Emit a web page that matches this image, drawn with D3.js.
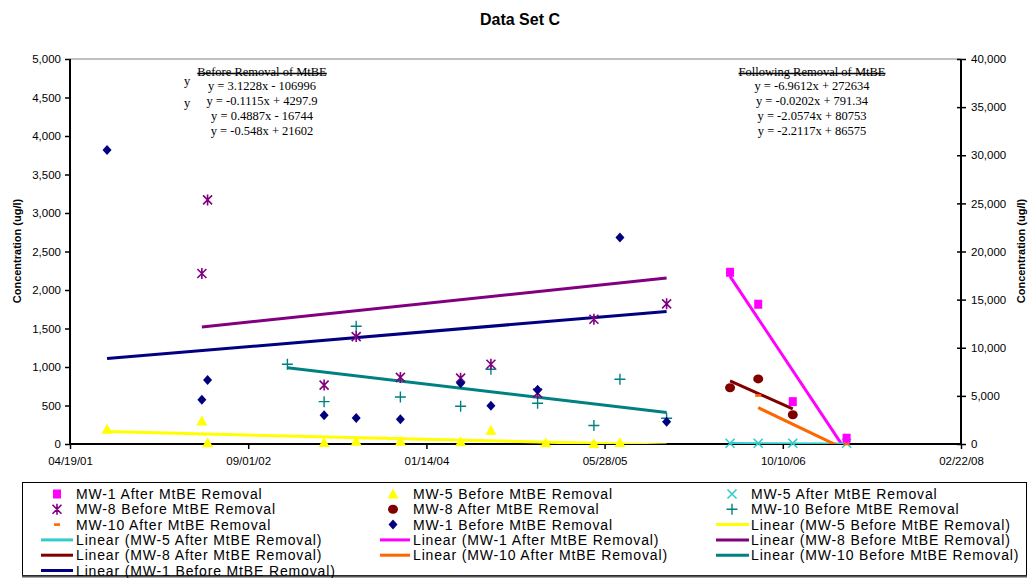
<!DOCTYPE html>
<html><head><meta charset="utf-8">
<script src="https://cdn.jsdelivr.net/npm/d3@7"></script>
<style>
body{margin:0;background:#fff;}
svg{display:block;font-family:"Liberation Sans",Arial,sans-serif;}
</style></head>
<body><svg id="c" width="1030" height="578"></svg>
<script>
// ---------- DATA ----------
const xTickDates = ["2001-04-19","2002-09-01","2004-01-14","2005-05-28","2006-10-10","2008-02-22"];
const leftTicks = [0,500,1000,1500,2000,2500,3000,3500,4000,4500,5000];
const rightTicks = [0,5000,10000,15000,20000,25000,30000,35000,40000];

const mw1BeforeDates = ["2001-08-01","2002-04-24","2002-05-10","2003-04-02","2003-07-01","2003-11-02","2004-04-19","2004-07-13","2004-11-21","2005-07-10","2005-11-18"];
const mw1BeforeVals  = [30540,4600,6650,2980,2700,2570,6300,3980,5640,21450,2320]; // right axis

const mw5BeforeDates = ["2001-08-01","2002-04-24","2002-05-10","2003-04-02","2003-07-01","2003-11-02","2004-04-19","2004-07-13","2004-12-14","2005-04-28","2005-07-10"];
const mw5BeforeVals  = [190,300,15,20,35,35,30,180,15,8,20];

const mw8BeforeDates = ["2002-04-24","2002-05-10","2003-04-02","2003-07-01","2003-11-02","2004-04-19","2004-07-13","2004-11-21","2005-04-28","2005-11-18"];
const mw8BeforeVals  = [2215,3170,765,1395,865,855,1035,660,1620,1820];

const mw10BeforeDates = ["2002-12-20","2003-04-02","2003-07-01","2003-11-02","2004-04-19","2004-07-13","2004-11-21","2005-04-28","2005-07-10","2005-11-18"];
const mw10BeforeVals  = [1035,550,1530,610,490,970,530,240,840,335];

const mw1AfterDates = ["2006-05-15","2006-08-02","2006-11-07","2007-04-07"];
const mw1AfterVals  = [2230,1815,550,75];

const mw5AfterDates = ["2006-05-15","2006-08-02","2006-11-07","2007-04-07"];
const mw5AfterVals  = [10,10,10,10];

const mw8AfterDates = ["2006-05-15","2006-08-02","2006-11-07"];
const mw8AfterVals  = [730,845,380];

const mw10AfterDates = ["2006-08-02","2007-04-07"];
const mw10AfterVals  = [630,0];

// trend lines: name, slope, intercept (Excel serial x), start, end, axis
const trendNames  = ["MW-1 Before","MW-5 Before","MW-8 Before","MW-10 Before","MW-1 After","MW-5 After","MW-8 After","MW-10 After"];
const trendSlope  = [3.1228,-0.1115,0.4887,-0.548,-6.9612,-0.0202,-2.0574,-2.2117];
const trendInter  = [-106996,4297.9,-16744,21602,272634,791.34,80753,86575];
const trendStart  = ["2001-08-01","2001-08-01","2002-04-24","2002-12-20","2006-05-15","2006-05-15","2006-05-15","2006-08-02"];
const trendEnd    = ["2005-11-18","2005-11-18","2005-11-18","2005-11-18","2007-04-07","2007-04-07","2006-11-07","2007-04-07"];
const trendAxis   = ["R","L","L","L","L","L","L","L"];
const trendColor  = ["#000080","#FFFF00","#800080","#008080","#FF00FF","#33CCCC","#800000","#FF6600"];

const eqBeforeTitle = "Before Removal of MtBE";
const eqBefore = ["y = 3.1228x - 106996","y = -0.1115x + 4297.9","y = 0.4887x - 16744","y = -0.548x + 21602"];
const eqAfterTitle = "Following Removal of MtBE";
const eqAfter = ["y = -6.9612x + 272634","y = -0.0202x + 791.34","y = -2.0574x + 80753","y = -2.2117x + 86575"];

const legendLabels = [
 "MW-1 After MtBE Removal","MW-5 Before MtBE Removal","MW-5 After MtBE Removal",
 "MW-8 Before MtBE Removal","MW-8 After MtBE Removal","MW-10 Before MtBE Removal",
 "MW-10 After MtBE Removal","MW-1 Before MtBE Removal","Linear (MW-5 Before MtBE Removal)",
 "Linear (MW-5 After MtBE Removal)","Linear (MW-1 After MtBE Removal)","Linear (MW-8 Before MtBE Removal)",
 "Linear (MW-8 After MtBE Removal)","Linear (MW-10 After MtBE Removal)","Linear (MW-10 Before MtBE Removal)",
 "Linear (MW-1 Before MtBE Removal)"];
const legendKeys = ["sq","tri","x","ast","circ","plus","dash","dia","L:#FFFF00","L:#33CCCC","L:#FF00FF","L:#800080","L:#800000","L:#FF6600","L:#008080","L:#000080"];

// ---------- CHART ----------
const parse = d3.utcParse("%Y-%m-%d");
const svg = d3.select("#c");
const L = 70, R = 961, T = 59, B = 444;
const x = d3.scaleUtc().domain([parse("2001-04-19"), parse("2008-02-22")]).range([L, R]);
const yL = d3.scaleLinear().domain([0,5000]).range([B,T]);
const yR = d3.scaleLinear().domain([0,40000]).range([B,T]);
const serial = d => (d - Date.UTC(1899,11,30)) / 86400000;

svg.append("defs").append("clipPath").attr("id","plot").append("rect")
  .attr("x",L).attr("y",T).attr("width",R-L).attr("height",B-T);

// title
svg.append("text").attr("x",520).attr("y",25).attr("text-anchor","middle")
  .style("font-weight","bold").style("font-size","16px").text("Data Set C");

// top border
svg.append("line").attr("x1",L).attr("x2",R).attr("y1",T).attr("y2",T).attr("stroke","#808080").attr("stroke-width",1);

// axes
const fmt = d3.format(",");
const gL = svg.append("g").attr("transform",`translate(${L},0)`)
  .call(d3.axisLeft(yL).tickValues(leftTicks).tickFormat(fmt).tickSize(5).tickPadding(4));
const gR = svg.append("g").attr("transform",`translate(${R},0)`)
  .call(d3.axisRight(yR).tickValues(rightTicks).tickFormat(fmt).tickSize(5).tickPadding(5));
gR.selectAll(".tick line").attr("x1",-4);
const gX = svg.append("g").attr("transform",`translate(0,${B})`)
  .call(d3.axisBottom(x).tickValues(xTickDates.map(parse)).tickFormat(d3.utcFormat("%m/%d/%y")).tickSize(5).tickPadding(8));
[gL,gR,gX].forEach(g=>{
  g.select(".domain").attr("stroke","#000").attr("stroke-width",2);
  g.selectAll(".tick line").attr("stroke","#000").attr("stroke-width",1.5);
  g.selectAll(".tick text").style("font-size","11.5px").attr("fill","#000").style("font-family","'Liberation Sans',Arial,sans-serif");
});
gX.select(".domain").attr("d",`M${L},0H${R}`);
gL.select(".domain").attr("d",`M0,${B}V${T}`);
gR.select(".domain").attr("d",`M0,${B}V${T}`);

// axis titles
svg.append("text").attr("transform","translate(21,251) rotate(-90)").attr("text-anchor","middle")
  .style("font-weight","bold").style("font-size","11px").text("Concentration (ug/l)");
svg.append("text").attr("transform","translate(1025,251) rotate(-90)").attr("text-anchor","middle")
  .style("font-weight","bold").style("font-size","11px").text("Concentration (ug/l)");

// trend lines
const tg = svg.append("g").attr("clip-path","url(#plot)");
trendNames.forEach((n,i)=>{
  const s = parse(trendStart[i]), e = parse(trendEnd[i]);
  const ys = trendAxis[i]==="R" ? yR : yL;
  const f = d => trendSlope[i]*serial(d) + trendInter[i];
  tg.append("line").attr("x1",x(s)).attr("x2",x(e)).attr("y1",ys(f(s))).attr("y2",ys(f(e)))
    .attr("stroke",trendColor[i]).attr("stroke-width",3);
});

// marker drawers
function marker(g, type, cx, cy){
  switch(type){
    case "sq": g.append("rect").attr("x",cx-4).attr("y",cy-4.5).attr("width",8).attr("height",9).attr("fill","#FF00FF"); break;
    case "tri": g.append("path").attr("d",`M${cx},${cy-5.5}L${cx+5.5},${cy+4.5}L${cx-5.5},${cy+4.5}Z`).attr("fill","#FFFF00"); break;
    case "x": g.append("path").attr("d",`M${cx-4.5},${cy-4.5}L${cx+4.5},${cy+4.5}M${cx+4.5},${cy-4.5}L${cx-4.5},${cy+4.5}`).attr("stroke","#33CCCC").attr("stroke-width",1.6); break;
    case "ast": g.append("path").attr("d",`M${cx-4.5},${cy-4.5}L${cx+4.5},${cy+4.5}M${cx+4.5},${cy-4.5}L${cx-4.5},${cy+4.5}M${cx},${cy-5.5}L${cx},${cy+5.5}`).attr("stroke","#800080").attr("stroke-width",1.6); break;
    case "circ": g.append("ellipse").attr("cx",cx).attr("cy",cy).attr("rx",5).attr("ry",4.5).attr("fill","#800000"); break;
    case "plus": g.append("path").attr("d",`M${cx-5.5},${cy}L${cx+5.5},${cy}M${cx},${cy-5.5}L${cx},${cy+5.5}`).attr("stroke","#008080").attr("stroke-width",1.4); break;
    case "dash": g.append("rect").attr("x",cx-3).attr("y",cy-1.3).attr("width",6).attr("height",2.6).attr("fill","#FF6600"); break;
    case "dia": g.append("path").attr("d",`M${cx},${cy-5}L${cx+4.5},${cy}L${cx},${cy+5}L${cx-4.5},${cy}Z`).attr("fill","#000080"); break;
  }
}
const mg = svg.append("g");
function plotSeries(dates, vals, type, ys){
  dates.forEach((d,i)=>marker(mg, type, x(parse(d)), ys(vals[i])));
}
plotSeries(mw5AfterDates, mw5AfterVals, "x", yL);
plotSeries(mw10AfterDates, mw10AfterVals, "dash", yL);
plotSeries(mw5BeforeDates, mw5BeforeVals, "tri", yL);
plotSeries(mw10BeforeDates, mw10BeforeVals, "plus", yL);
plotSeries(mw8BeforeDates, mw8BeforeVals, "ast", yL);
plotSeries(mw8AfterDates, mw8AfterVals, "circ", yL);
plotSeries(mw1BeforeDates, mw1BeforeVals, "dia", yR);
plotSeries(mw1AfterDates, mw1AfterVals, "sq", yL);

// equation boxes
function eqBox(cx, title, lines, strays){
  const g = svg.append("g").style("font-family","'Liberation Serif','Times New Roman',serif").style("font-size","12.5px");
  const t = g.append("text").attr("x",cx).attr("y",76).attr("text-anchor","middle").text(title);
  const w = t.node().getComputedTextLength();
  g.append("line").attr("x1",cx-w/2).attr("x2",cx+w/2).attr("y1",73.5).attr("y2",73.5).attr("stroke","#000").attr("stroke-width",1.5);
  lines.forEach((l,i)=>g.append("text").attr("x",cx).attr("y",90+i*15).attr("text-anchor","middle").text(l));
  (strays||[]).forEach(s=>g.append("text").attr("x",s[0]).attr("y",s[1]).text("y"));
}
eqBox(262, eqBeforeTitle, eqBefore, [[184,85],[184,107]]);
eqBox(812, eqAfterTitle, eqAfter);

// legend
svg.append("rect").attr("x",22.5).attr("y",482.5).attr("width",1004).attr("height",93).attr("fill","#fff").attr("stroke","#000").attr("stroke-width",1);
svg.append("line").attr("x1",22).attr("x2",1027).attr("y1",576.5).attr("y2",576.5).attr("stroke","#555").attr("stroke-width",2);
const colMark = [57,393,732], colLine = [[41,73],[380,410],[716,749]], colText=[76,413,751];
const lg = svg.append("g");
legendLabels.forEach((lab,i)=>{
  const c = i%3, r = Math.floor(i/3);
  const cy = 494 + r*15.3;
  const k = legendKeys[i];
  if(k.startsWith("L:")){
    lg.append("line").attr("x1",colLine[c][0]).attr("x2",colLine[c][1]).attr("y1",cy).attr("y2",cy).attr("stroke",k.slice(2)).attr("stroke-width",3);
  } else marker(lg, k, colMark[c], cy);
  lg.append("text").attr("x",colText[c]).attr("y",cy+5).style("font-size","14px").style("letter-spacing","0.85px").text(lab);
});
</script></body></html>
